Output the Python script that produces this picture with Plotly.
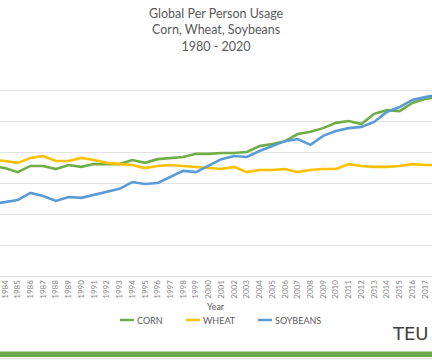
import plotly.graph_objects as go

years = list(range(1983, 2019))

corn = [35.5, 34.8, 33.5, 35.5, 35.5, 34.5, 35.8, 35.2, 36.1, 36.1,
        36.1, 37.4, 36.5, 37.7, 38.1, 38.4, 39.4, 39.4, 39.7, 39.7,
        40.0, 41.9, 42.6, 43.5, 45.8, 46.5, 47.7, 49.4, 50.0, 49.0,
        52.3, 53.5, 53.2, 55.8, 57.1, 57.7]

wheat = [37.4, 37.1, 36.5, 38.1, 38.7, 37.1, 37.1, 38.1, 37.4, 36.5,
         36.1, 35.8, 34.8, 35.5, 35.8, 35.5, 35.2, 34.8, 34.5, 35.2,
         33.5, 34.2, 34.2, 34.5, 33.5, 34.2, 34.5, 34.5, 36.1, 35.5,
         35.2, 35.2, 35.5, 36.1, 35.8, 35.8]

soybeans = [23.2, 23.9, 24.5, 26.8, 25.8, 24.2, 25.5, 25.2, 26.1, 27.1,
            28.1, 30.3, 29.7, 30.0, 31.9, 33.9, 33.5, 35.5, 37.7, 38.7,
            38.4, 40.3, 41.9, 43.5, 44.2, 42.3, 45.2, 46.8, 47.7, 48.1,
            49.7, 52.9, 54.5, 56.8, 57.7, 58.4]

title_lines = ["Global Per Person Usage", "Corn, Wheat, Soybeans", "1980 - 2020"]
series_names = ["CORN", "WHEAT", "SOYBEANS"]
series_colors = ["#70AD47", "#FFC000", "#5B9BD5"]

W, H = 432, 361
T, B = 59, 85
PH = H - T - B


def py(y):
    """pixel row -> paper y"""
    return (H - B - y) / PH


fig = go.Figure()
for name, vals, col in zip(series_names, [corn, wheat, soybeans], series_colors):
    fig.add_trace(go.Scatter(x=years, y=vals, mode="lines", name=name,
                             line=dict(color=col, width=2.6)))

fig.update_layout(
    width=W, height=H,
    margin=dict(l=0, r=0, t=T, b=B, autoexpand=False),
    paper_bgcolor="white", plot_bgcolor="white",
    font=dict(family="Lato, Open Sans, sans-serif", color="#595959"),
    showlegend=False,
    xaxis=dict(range=[1983.61, 2017.55], tickmode="linear", tick0=1984, dtick=1,
               tickangle=-90, tickfont=dict(size=8, color="#8a8a8a"),
               ticklabeloverflow="allow", automargin=False,
               showgrid=False, showline=True, linecolor="#d9d9d9", linewidth=1,
               ticks="", zeroline=False),
    yaxis=dict(range=[0, 70], dtick=10, showticklabels=False, showgrid=True,
               gridcolor="#e3e3e3", gridwidth=1, zeroline=False, showline=False,
               automargin=False),
)

fig.add_annotation(text="<br>".join(title_lines), xref="paper", yref="paper",
                   x=0.5, y=py(30), xanchor="center", yanchor="middle",
                   showarrow=False, align="center",
                   font=dict(size=12.5, color="#595959"))
fig.add_annotation(text="Year", xref="paper", yref="paper", x=0.5, y=py(306),
                   xanchor="center", yanchor="middle", showarrow=False,
                   font=dict(size=9, color="#595959"))

# manual legend
leg_x = [120, 186, 258]
for lx, name, col in zip(leg_x, series_names, series_colors):
    fig.add_shape(type="line", xref="paper", yref="paper",
                  x0=lx / W, x1=(lx + 14) / W, y0=py(320), y1=py(320),
                  line=dict(color=col, width=2.5))
    fig.add_annotation(text=name, xref="paper", yref="paper",
                       x=(lx + 15) / W, y=py(320), xanchor="left", yanchor="middle",
                       showarrow=False, font=dict(size=9, color="#595959"))

fig.add_annotation(text="TEU", xref="paper", yref="paper", x=(W - 1) / W, y=py(333),
                   xanchor="right", yanchor="middle", showarrow=False,
                   font=dict(size=18, color="#404040", family="DejaVu Sans"))

fig.add_shape(type="rect", xref="paper", yref="paper", x0=0, x1=1,
              y0=py(357), y1=py(351.5), fillcolor="#6FA84B", line=dict(width=0))
fig.add_shape(type="line", xref="paper", yref="paper", x0=0, x1=1,
              y0=py(358.5), y1=py(358.5), line=dict(color="#e0e0e0", width=1))

fig.write_html("out.html", config={"displayModeBar": False},
               post_script="document.body.style.margin='0px';document.body.style.overflow='hidden';")
